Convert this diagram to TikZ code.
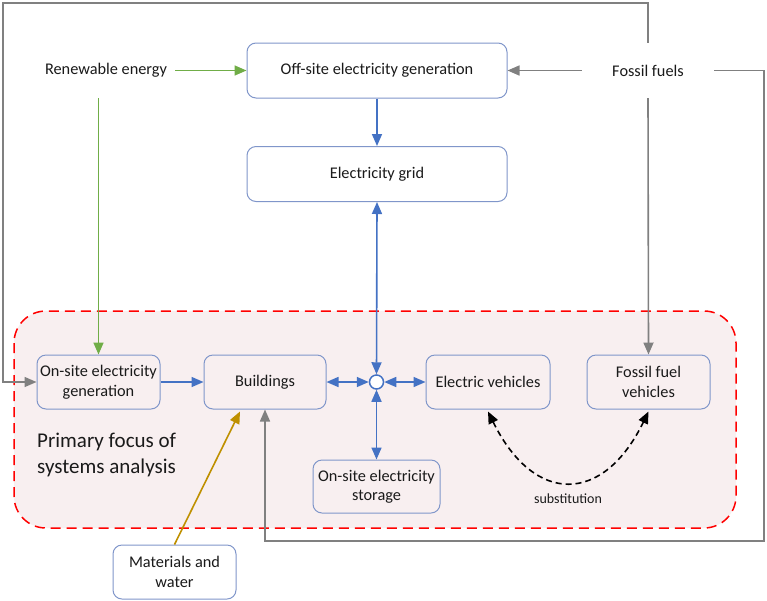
\documentclass[tikz,border=0pt]{standalone}
\usepackage{fontspec}
\setmainfont{Carlito}
\usetikzlibrary{arrows.meta}
\definecolor{boxline}{HTML}{8096CA}
\definecolor{arrblue}{HTML}{4472C4}
\definecolor{arrgreen}{HTML}{70AD47}
\definecolor{arrgray}{HTML}{808080}
\definecolor{arrgold}{HTML}{BF9000}
\definecolor{regionred}{HTML}{FF0000}
\definecolor{regionfill}{HTML}{F8EFF0}
\definecolor{txt}{HTML}{1A1A1A}
\tikzset{
  box/.style={draw=boxline, line width=1pt, rounded corners=9pt, align=center, text=txt,
    font=\fontsize{16.3}{19.5}\selectfont, inner sep=0pt},
  plain/.style={align=center, text=txt, font=\fontsize{16.3}{19.5}\selectfont, inner sep=0pt},
  tip/.style={-{Triangle[length=12pt,width=10pt]}},
  dtip/.style={{Triangle[length=12pt,width=10pt]}-{Triangle[length=12pt,width=10pt]}},
  bluearr/.style={tip, draw=arrblue, line width=1.6pt},
  bluedbl/.style={dtip, draw=arrblue, line width=1.6pt},
  greenarr/.style={tip, draw=arrgreen, line width=1.6pt},
  grayarr/.style={tip, draw=arrgray, line width=1.6pt},
  goldarr/.style={tip, draw=arrgold, line width=1.6pt},
}
\begin{document}
\begin{tikzpicture}[x=1pt,y=-1pt]
\useasboundingbox (0,0) rectangle (767,600);
% region
\draw[regionred, line width=1.5pt, dash pattern=on 10pt off 6pt, fill=regionfill, rounded corners=32pt]
  (14,311) rectangle (736,528);
% boxes
\node[box, fill=white, minimum width=260pt, minimum height=55pt] (off) at (377,70.5) {Off-site electricity generation};
\node[box, fill=white, minimum width=260pt, minimum height=55pt] (grid) at (377,174) {Electricity grid};
\node[box, minimum width=123pt, minimum height=54pt] (onsite) at (98.5,382) {On-site electricity\\generation};
\node[box, minimum width=122pt, minimum height=54pt] (bld) at (265,382) {Buildings};
\node[box, minimum width=124pt, minimum height=54pt] (ev) at (488,382) {Electric vehicles};
\node[box, minimum width=123pt, minimum height=54pt] (ffv) at (648.5,382) {Fossil fuel\\vehicles};
\node[box, minimum width=127pt, minimum height=53pt] (stor) at (376.5,486.5) {On-site electricity\\storage};
\node[box, fill=white, minimum width=123pt, minimum height=54pt] (mat) at (174.5,572) {Materials and\\water};
% text nodes
\node[plain, minimum width=138pt, minimum height=55pt] (ren) at (106,70.5) {Renewable energy};
\node[plain, minimum width=132pt, minimum height=55pt] (fos) at (648,70.5) {Fossil fuels};
\node[anchor=west, align=left, text=txt, font=\fontsize{21}{26}\selectfont, inner sep=0pt] (focus) at (37,455) {Primary focus of\\systems analysis};
% junction
\node[circle, draw=arrblue, fill=white, line width=1.5pt, minimum size=14pt, inner sep=0pt] (junc) at (376.5,382) {};
% coordinates
\coordinate (tl) at (3,3);
\coordinate (br) at (764,541);
% green
\draw[greenarr] (ren.east) -- (off.west);
\draw[greenarr] (ren.south -| onsite.north) -- (onsite.north);
% gray
\draw[grayarr] (fos.west) -- (off.east);
\draw[grayarr] (fos.south) -- (ffv.north);
\draw[grayarr] (fos.north) |- (tl) |- (onsite.west);
\draw[grayarr] (fos.east) -| (br) -| (bld.south);
% gold
\draw[goldarr] (mat.north) -- ([xshift=-25pt,yshift=-2pt]bld.south);
% blue
\draw[bluearr] (off.south) -- (grid.north);
\draw[bluedbl] (grid.south) -- (junc.north);
\draw[bluedbl] (bld.east) -- (junc.west);
\draw[bluedbl] (junc.east) -- (ev.west);
\draw[bluedbl] (junc.south) -- (stor.north);
\draw[bluearr] (onsite.east) -- (bld.west);
% substitution
\draw[dtip, black, line width=1.6pt, dash pattern=on 6pt off 4pt]
  ([yshift=-2pt]ev.south) .. controls (534,505) and (603,505) .. ([yshift=-2pt]ffv.south);
\node[font=\fontsize{14}{16}\selectfont, text=txt, inner sep=0pt] (subst) at (568,499) {substitution};
\end{tikzpicture}
\end{document}
